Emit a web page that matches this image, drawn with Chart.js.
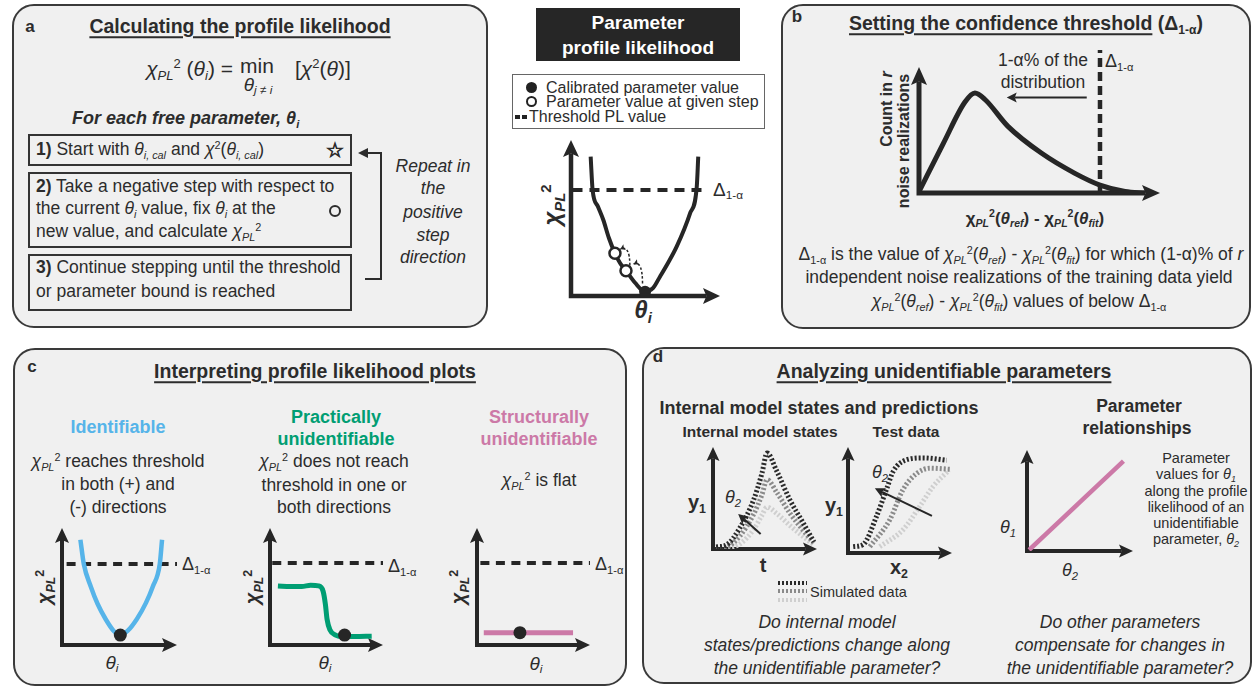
<!DOCTYPE html>
<html>
<head>
<meta charset="utf-8">
<title>Profile likelihood overview</title>
<script src="https://cdn.jsdelivr.net/npm/chart.js@4"></script>
<style>
  body { margin: 0; background: #fff; font-family: "Liberation Sans", Arial, sans-serif; color: #2c2c2c; }
  #page { position: relative; width: 1254px; height: 688px; overflow: hidden; }
  .panel { position: absolute; background: #f0f0f0; border: 2px solid #3a3a3a; border-radius: 22px; box-sizing: border-box; }
  .box { position: absolute; border: 2px solid #333; box-sizing: border-box; }
  .c, .l, .r, .rot { position: absolute; white-space: nowrap; line-height: 1; }
  .c { transform: translate(-50%, -50%); }
  .l { transform: translateY(-50%); }
  .r { transform: translate(-100%, -50%); }
  .rot { transform: translate(-50%, -50%) rotate(-90deg); }
  .ttl { font-weight: bold; font-size: 19.5px; }
  .ttl u { text-decoration-thickness: 1.5px; text-underline-offset: 3px; }
  .lab { font-weight: bold; font-size: 17px; }
  .txt { font-size: 17.5px; }
  .it { font-style: italic; }
  sub { font-size: 0.62em; vertical-align: -0.32em; font-style: italic; line-height: 0; }
  sub.n { font-style: normal; }
  sup { font-size: 0.62em; vertical-align: 0.6em; line-height: 0; }
  canvas { position: absolute; }
</style>
</head>
<body>
<div id="page">
  <!-- panel frames -->
  <div class="panel" style="left:12px;top:4px;width:476px;height:324px"></div>
  <div class="panel" style="left:781px;top:4px;width:470px;height:325px"></div>
  <div class="panel" style="left:13px;top:348px;width:614px;height:338px"></div>
  <div class="panel" style="left:642px;top:347px;width:610px;height:337px"></div>

  <!-- a -->
  <div class="c lab" style="left:30px;top:26px">a</div>
  <div class="c ttl" style="left:240px;top:27px"><u>Calculating the profile likelihood</u></div>
  <div class="r" style="left:233px;top:68px;font-size:21px"><i>χ</i><sub>PL</sub><sup>2</sup> (<i>θ</i><sub>i</sub>) =</div>
  <div class="l" style="left:240px;top:65px;font-size:21px">min</div>
  <div class="c" style="left:258px;top:84px;font-size:19px"><i>θ</i><sub>j ≠ i</sub></div>
  <div class="l" style="left:295px;top:68px;font-size:21px">[<i>χ</i><sup>2</sup>(<i>θ</i>)]</div>
  <div class="l" style="left:72px;top:118px;font-size:18px;font-weight:bold;font-style:italic">For each free parameter, θ<sub>i</sub></div>

  <div class="box" style="left:28px;top:134px;width:324px;height:32px"></div>
  <div class="l txt" style="left:36px;top:150px"><b>1)</b> Start with <i>θ</i><sub>i, cal</sub> and <i>χ</i><sup>2</sup>(<i>θ</i><sub>i, cal</sub>)</div>
  <div class="c" style="left:335px;top:150px;font-family:'DejaVu Sans';font-size:20px;-webkit-text-stroke:0.9px #2c2c2c">☆</div>

  <div class="box" style="left:28px;top:172px;width:324px;height:76px"></div>
  <div class="l txt" style="left:36px;top:187px"><b>2)</b> Take a negative step with respect to</div>
  <div class="l txt" style="left:36px;top:209px">the current <i>θ</i><sub>i</sub> value, fix <i>θ</i><sub>i</sub> at the</div>
  <div class="l txt" style="left:36px;top:232px">new value, and calculate <i>χ</i><sub>PL</sub><sup>2</sup></div>
  <div style="position:absolute;left:329px;top:205px;width:12px;height:12px;border:2.5px solid #2c2c2c;border-radius:50%;box-sizing:border-box"></div>

  <div class="box" style="left:28px;top:254px;width:324px;height:57px"></div>
  <div class="l txt" style="left:36px;top:268px"><b>3)</b> Continue stepping until the threshold</div>
  <div class="l txt" style="left:36px;top:292px">or parameter bound is reached</div>

  <div style="position:absolute;left:366px;top:152px;width:16px;border-top:2.5px solid #2c2c2c"></div>
  <div style="position:absolute;left:380px;top:152px;height:128px;border-left:2.5px solid #2c2c2c"></div>
  <div style="position:absolute;left:365px;top:278px;width:17px;border-top:2.5px solid #2c2c2c"></div>
  <div style="position:absolute;left:358px;top:148px;width:0;height:0;border-right:10px solid #2c2c2c;border-top:5.5px solid transparent;border-bottom:5.5px solid transparent"></div>
  <div class="c txt it" style="left:433px;top:167px">Repeat in</div>
  <div class="c txt it" style="left:433px;top:189px">the</div>
  <div class="c txt it" style="left:433px;top:213px">positive</div>
  <div class="c txt it" style="left:433px;top:236px">step</div>
  <div class="c txt it" style="left:433px;top:258px">direction</div>

  <!-- centre -->
  <div style="position:absolute;left:536px;top:8px;width:204px;height:53px;background:#262626"></div>
  <div class="c" style="left:638px;top:22px;color:#fff;font-weight:bold;font-size:19px">Parameter</div>
  <div class="c" style="left:638px;top:47px;color:#fff;font-weight:bold;font-size:19px">profile likelihood</div>
  <div style="position:absolute;left:512px;top:74px;width:253px;height:55px;background:#fff;border:1.5px solid #666;box-sizing:border-box"></div>
  <div style="position:absolute;left:526px;top:82px;width:11px;height:11px;background:#222;border-radius:50%"></div>
  <div style="position:absolute;left:526px;top:96px;width:11px;height:11px;border:2.5px solid #222;border-radius:50%;box-sizing:border-box;background:#fff"></div>
  <div style="position:absolute;left:515px;top:115px;width:5px;height:4px;background:#222"></div>
  <div style="position:absolute;left:522px;top:115px;width:5px;height:4px;background:#222"></div>
  <div class="l" style="left:546px;top:88px;font-size:16px">Calibrated parameter value</div>
  <div class="l" style="left:546px;top:102px;font-size:16px">Parameter value at given step</div>
  <div class="l" style="left:529px;top:117px;font-size:16px">Threshold PL value</div>
  <div class="rot" style="left:552px;top:205px;font-size:24px;font-weight:bold"><i>χ</i><sub>PL</sub><sup>2</sup></div>
  <div class="c" style="left:643px;top:310px;font-size:24px;font-weight:bold;font-style:italic">θ<sub>i</sub></div>
  <div class="l" style="left:713px;top:189px;font-size:19px">Δ<sub class="n">1-α</sub></div>

  <!-- b -->
  <div class="c lab" style="left:797px;top:16px">b</div>
  <div class="c ttl" style="left:1026px;top:24px"><u>Setting the confidence threshold</u> (Δ<sub class="n">1-α</sub>)</div>
  <div class="c txt" style="left:1043px;top:61px">1-α% of the</div>
  <div class="c txt" style="left:1043px;top:83px">distribution</div>
  <div class="l" style="left:1105px;top:61px;font-size:18px">Δ<sub class="n">1-α</sub></div>
  <div class="rot" style="left:887px;top:109px;font-size:16px;font-weight:bold">Count in <i>r</i></div>
  <div class="rot" style="left:904px;top:141px;font-size:16px;font-weight:bold">noise realizations</div>
  <div class="c" style="left:1035px;top:218px;font-size:17px;font-weight:bold">χ<sub>PL</sub><sup>2</sup>(<i>θ</i><sub>ref</sub>) - χ<sub>PL</sub><sup>2</sup>(<i>θ</i><sub>fit</sub>)</div>
  <div class="c txt" style="left:1021px;top:255px">Δ<sub class="n">1-α</sub> is the value of <i>χ</i><sub>PL</sub><sup>2</sup>(<i>θ</i><sub>ref</sub>) - <i>χ</i><sub>PL</sub><sup>2</sup>(<i>θ</i><sub>fit</sub>) for which (1-α)% of <i>r</i></div>
  <div class="c txt" style="left:1019px;top:278px">independent noise realizations of the training data yield</div>
  <div class="c txt" style="left:1019px;top:302px"><i>χ</i><sub>PL</sub><sup>2</sup>(<i>θ</i><sub>ref</sub>) - <i>χ</i><sub>PL</sub><sup>2</sup>(<i>θ</i><sub>fit</sub>) values of below Δ<sub class="n">1-α</sub></div>

  <!-- c -->
  <div class="c lab" style="left:32px;top:366px">c</div>
  <div class="c ttl" style="left:315px;top:372px"><u>Interpreting profile likelihood plots</u></div>
  <div class="c" style="left:118px;top:427px;font-size:18px;font-weight:bold;color:#56b4e9">Identifiable</div>
  <div class="c txt" style="left:118px;top:462px"><i>χ</i><sub>PL</sub><sup>2</sup> reaches threshold</div>
  <div class="c txt" style="left:118px;top:485px">in both (+) and</div>
  <div class="c txt" style="left:118px;top:508px">(-) directions</div>
  <div class="c" style="left:336px;top:417px;font-size:18px;font-weight:bold;color:#009e73">Practically</div>
  <div class="c" style="left:336px;top:439px;font-size:18px;font-weight:bold;color:#009e73">unidentifiable</div>
  <div class="c txt" style="left:334px;top:462px"><i>χ</i><sub>PL</sub><sup>2</sup> does not reach</div>
  <div class="c txt" style="left:334px;top:486px">threshold in one or</div>
  <div class="c txt" style="left:334px;top:508px">both directions</div>
  <div class="c" style="left:539px;top:417px;font-size:18px;font-weight:bold;color:#cc79a7">Structurally</div>
  <div class="c" style="left:539px;top:439px;font-size:18px;font-weight:bold;color:#cc79a7">unidentifiable</div>
  <div class="c txt" style="left:539px;top:481px"><i>χ</i><sub>PL</sub><sup>2</sup> is flat</div>

  <div class="rot" style="left:44px;top:587px;font-size:20px;font-weight:bold"><i>χ</i><sub>PL</sub><sup>2</sup></div>
  <div class="rot" style="left:252px;top:587px;font-size:20px;font-weight:bold"><i>χ</i><sub>PL</sub><sup>2</sup></div>
  <div class="rot" style="left:458px;top:587px;font-size:20px;font-weight:bold"><i>χ</i><sub>PL</sub><sup>2</sup></div>
  <div class="c it" style="left:112px;top:662px;font-size:19px">θ<sub>i</sub></div>
  <div class="c it" style="left:325px;top:662px;font-size:19px">θ<sub>i</sub></div>
  <div class="c it" style="left:536px;top:663px;font-size:19px">θ<sub>i</sub></div>
  <div class="l" style="left:182px;top:564px;font-size:18px">Δ<sub class="n">1-α</sub></div>
  <div class="l" style="left:388px;top:566px;font-size:18px">Δ<sub class="n">1-α</sub></div>
  <div class="l" style="left:595px;top:564px;font-size:18px">Δ<sub class="n">1-α</sub></div>

  <!-- d -->
  <div class="c lab" style="left:658px;top:356px">d</div>
  <div class="c ttl" style="left:944px;top:372px"><u>Analyzing unidentifiable parameters</u></div>
  <div class="c" style="left:819px;top:408px;font-size:18px;font-weight:bold">Internal model states and predictions</div>
  <div class="c" style="left:760px;top:432px;font-size:15.5px;font-weight:bold">Internal model states</div>
  <div class="c" style="left:906px;top:432px;font-size:15.5px;font-weight:bold">Test data</div>
  <div class="c" style="left:697px;top:502px;font-size:20px;font-weight:bold">y<sub class="n">1</sub></div>
  <div class="c" style="left:834px;top:505px;font-size:20px;font-weight:bold">y<sub class="n">1</sub></div>
  <div class="c" style="left:763px;top:565px;font-size:20px;font-weight:bold">t</div>
  <div class="c" style="left:899px;top:567px;font-size:20px;font-weight:bold">x<sub class="n">2</sub></div>
  <div class="c it" style="left:733px;top:497px;font-size:18px">θ<sub>2</sub></div>
  <div class="c it" style="left:880px;top:472px;font-size:18px">θ<sub>2</sub></div>
  <div style="position:absolute;left:778px;top:581px;width:29px;height:4px;background:repeating-linear-gradient(90deg,#2a2a2a 0 2px,transparent 2px 4px)"></div>
  <div style="position:absolute;left:778px;top:589px;width:29px;height:4px;background:repeating-linear-gradient(90deg,#8a8a8a 0 2px,transparent 2px 4px)"></div>
  <div style="position:absolute;left:778px;top:598px;width:29px;height:4px;background:repeating-linear-gradient(90deg,#cfcfcf 0 2px,transparent 2px 4px)"></div>
  <div class="l" style="left:810px;top:592px;font-size:14.5px">Simulated data</div>
  <div class="c txt it" style="left:827px;top:623px">Do internal model</div>
  <div class="c txt it" style="left:827px;top:646px">states/predictions change along</div>
  <div class="c txt it" style="left:827px;top:669px">the unidentifiable parameter?</div>

  <div class="c" style="left:1139px;top:407px;font-size:17.5px;font-weight:bold">Parameter</div>
  <div class="c" style="left:1137px;top:429px;font-size:17.5px;font-weight:bold">relationships</div>
  <div class="c it" style="left:1008px;top:527px;font-size:18px">θ<sub>1</sub></div>
  <div class="c it" style="left:1070px;top:570px;font-size:18px">θ<sub>2</sub></div>
  <div class="c" style="left:1196px;top:458px;font-size:14.5px">Parameter</div>
  <div class="c" style="left:1196px;top:474px;font-size:14.5px">values for <i>θ</i><sub>1</sub></div>
  <div class="c" style="left:1196px;top:491px;font-size:14.5px">along the profile</div>
  <div class="c" style="left:1196px;top:507px;font-size:14.5px">likelihood of an</div>
  <div class="c" style="left:1196px;top:523px;font-size:14.5px">unidentifiable</div>
  <div class="c" style="left:1196px;top:539px;font-size:14.5px">parameter, <i>θ</i><sub>2</sub></div>
  <div class="c txt it" style="left:1120px;top:623px">Do other parameters</div>
  <div class="c txt it" style="left:1120px;top:646px">compensate for changes in</div>
  <div class="c txt it" style="left:1120px;top:669px">the unidentifiable parameter?</div>
</div>

<script>
// ---- values (axis units 0..10) ----
// centre: parameter profile likelihood
const plTheta = [1.32, 1.45, 1.8, 2.17, 2.55, 2.95, 3.3, 3.69, 4.3, 4.97, 5.5, 5.97, 6.5, 7.09, 7.99, 8.44, 8.54];
const plChi2 = [8.93, 6.8, 5.75, 4.87, 3.7, 2.74, 2.1, 1.62, 0.85, 0.28, 0.5, 1.24, 2.1, 3.16, 5.3, 7.0, 8.93];
const plCalibrated = [[4.97], [0.28]];
const plSteps = [[2.95, 3.69], [2.74, 1.62]];
const plStepArcs = [
  [[4.8, 0.8], [4.8, 2.3], [4.2, 2.05]],
  [[3.95, 1.95], [3.95, 3.3], [3.3, 3.0]]
];
const plThreshold = 6.8;

// b: distribution of chi2 differences
const distX = [0, 1.0, 1.9, 2.32, 2.75, 3.69, 5.09, 6.47, 7.51, 8.55, 9.4];
const distCount = [0.1, 3.9, 7.2, 7.94, 7.4, 5.29, 3.15, 1.56, 0.63, 0.12, 0.0];
const distDelta = 7.51;
const distArrow = [[6.96, 7.57], [3.64, 7.57]];

// c: identifiable / practically / structurally unidentifiable
const idTheta = [1.6, 1.9, 2.5, 3.1, 3.8, 4.5, 5.07, 5.7, 6.5, 7.3, 7.9, 8.5, 8.7];
const idChi2 = [9.0, 6.9, 5.0, 3.5, 2.2, 1.2, 0.85, 1.2, 2.2, 3.6, 5.0, 6.9, 9.0];
const idCalibrated = [[5.07], [0.85]];
const practTheta = [0.7, 1.8, 2.8, 3.6, 4.3, 4.7, 4.9, 5.05, 5.3, 5.8, 6.5, 7.5, 9.0];
const practChi2 = [5.05, 5.0, 5.0, 5.1, 5.05, 4.6, 3.5, 2.2, 1.3, 0.85, 0.72, 0.72, 0.75];
const practCalibrated = [[6.6], [0.85]];
const structTheta = [0.6, 8.5];
const structChi2 = [1.05, 1.05];
const structCalibrated = [[3.8], [1.05]];
const cThresholds = [6.92, 7.0, 7.0];

// d: internal model states (three theta2 values)
const stateT = [0.3, 1.3, 2.6, 3.9, 4.7, 5.2, 6.1, 7.4, 8.7, 9.7];
const stateHigh = [0.2, 0.4, 2.1, 4.8, 7.4, 9.4, 7.7, 4.8, 2.5, 0.7];
const stateMid = [0.1, 0.2, 1.3, 3.4, 5.3, 6.8, 5.6, 3.5, 1.8, 0.6];
const stateLow = [0.0, 0.1, 0.5, 1.9, 3.3, 4.1, 3.5, 2.3, 1.2, 0.4];
const stateArrow = [[4.58, 1.48], [2.42, 3.44]];
// d: test data
const testXHigh = [0.5, 1.45, 2.74, 3.7, 4.35, 5.64, 7.25, 9.5];
const testYHigh = [0.6, 0.8, 3.45, 6.0, 7.7, 8.8, 8.97, 8.75];
const testXMid = [2.1, 4.0, 5.3, 6.6, 7.9, 9.8];
const testYMid = [0.6, 3.1, 6.0, 7.5, 8.0, 7.9];
const testXLow = [3.05, 5.3, 6.9, 8.2, 9.7];
const testYLow = [0.6, 2.2, 4.4, 6.3, 7.8];
const testArrow = [[8.07, 3.5], [2.58, 6.1]];
// d: parameter relationship
const relTheta2 = [0.2, 9.1];
const relTheta1 = [0.1, 8.9];

const INK = '#262626';
const BLUE = '#56b4e9', GREEN = '#009e73', PINK = '#cc79a7';
const PAD = 24;

function pts(xs, ys) { return xs.map((x, i) => ({ x, y: ys[i] })); }

function curve(xs, ys, color, width, extra) {
  return Object.assign({
    data: pts(xs, ys), showLine: true, borderColor: color, borderWidth: width,
    pointRadius: 0, fill: false, cubicInterpolationMode: 'monotone'
  }, extra || {});
}

function dashed(xs, ys, width, dash, extra) {
  return curve(xs, ys, INK, width, Object.assign({ borderDash: dash, cubicInterpolationMode: 'default', tension: 0 }, extra || {}));
}

function dots(xy, fill, r, border) {
  return {
    data: pts(xy[0], xy[1]), showLine: false, pointRadius: r,
    pointBackgroundColor: fill, pointBorderColor: INK, pointBorderWidth: border || 0
  };
}

// draws the arrow-tipped L axes and any annotation arrows / step arcs
function axesPlugin(cfg) {
  function head(ctx, tx, ty, ang, len, half) {
    ctx.save();
    ctx.translate(tx, ty);
    ctx.rotate(ang);
    ctx.beginPath();
    ctx.moveTo(0, 0);
    ctx.lineTo(-len, -half);
    ctx.lineTo(-len * 0.8, 0);
    ctx.lineTo(-len, half);
    ctx.closePath();
    ctx.fill();
    ctx.restore();
  }
  return {
    id: 'arrowAxes',
    beforeDatasetsDraw(chart) {
      const { ctx, chartArea: a } = chart;
      ctx.save();
      ctx.strokeStyle = ctx.fillStyle = INK;
      ctx.lineWidth = cfg.lw;
      ctx.lineJoin = 'miter';
      ctx.beginPath();
      ctx.moveTo(a.left, a.top + cfg.hl * 0.8);
      ctx.lineTo(a.left, a.bottom);
      ctx.lineTo(a.right - cfg.hl * 0.8, a.bottom);
      ctx.stroke();
      head(ctx, a.left, a.top, -Math.PI / 2, cfg.hl, cfg.hw);
      head(ctx, a.right, a.bottom, 0, cfg.hl, cfg.hw);
      ctx.restore();
    },
    afterDatasetsDraw(chart) {
      const { ctx, scales: { x, y } } = chart;
      const px = p => [x.getPixelForValue(p[0]), y.getPixelForValue(p[1])];
      (cfg.arrows || []).forEach(ar => {
        const [x1, y1] = px(ar[0]), [x2, y2] = px(ar[1]);
        const ang = Math.atan2(y2 - y1, x2 - x1);
        ctx.save();
        ctx.strokeStyle = ctx.fillStyle = INK;
        ctx.lineWidth = cfg.alw || 2;
        ctx.beginPath();
        ctx.moveTo(x1, y1);
        ctx.lineTo(x2 - Math.cos(ang) * 8, y2 - Math.sin(ang) * 8);
        ctx.stroke();
        head(ctx, x2, y2, ang, 10, 5);
        ctx.restore();
      });
      (cfg.arcs || []).forEach(arc => {
        const [x1, y1] = px(arc[0]), [cx, cy] = px(arc[1]), [x2, y2] = px(arc[2]);
        ctx.save();
        ctx.strokeStyle = ctx.fillStyle = INK;
        ctx.lineWidth = 1.5;
        ctx.setLineDash([2.5, 2]);
        ctx.beginPath();
        ctx.moveTo(x1, y1);
        ctx.quadraticCurveTo(cx, cy, x2, y2);
        ctx.stroke();
        ctx.setLineDash([]);
        head(ctx, x2, y2, Math.atan2(y2 - cy, x2 - cx), 5, 3);
        ctx.restore();
      });
    }
  };
}

function miniChart(area, datasets, cfg) {
  const cv = document.createElement('canvas');
  cv.width = Math.round(area.w + 2 * PAD);
  cv.height = Math.round(area.h + 2 * PAD);
  cv.style.left = (area.x - PAD) + 'px';
  cv.style.top = (area.y - PAD) + 'px';
  document.getElementById('page').appendChild(cv);
  return new Chart(cv, {
    type: 'scatter',
    data: { datasets },
    options: {
      responsive: false,
      animation: false,
      events: [],
      layout: { padding: PAD },
      scales: {
        x: { type: 'linear', display: false, min: 0, max: 10 },
        y: { type: 'linear', display: false, min: 0, max: 10 }
      },
      plugins: { legend: { display: false }, tooltip: { enabled: false } }
    },
    plugins: [axesPlugin(cfg)]
  });
}

// centre
miniChart({ x: 571, y: 140, w: 149, h: 156 }, [
  dots(plCalibrated, INK, 6),
  dots(plSteps, '#fff', 5.5, 2.5),
  curve(plTheta, plChi2, INK, 4),
  dashed([0.1, 9.2], [plThreshold, plThreshold], 4, [10, 7])
], { lw: 4.5, hl: 17, hw: 8, arcs: plStepArcs });

// b
miniChart({ x: 919, y: 67, w: 241, h: 126 }, [
  curve(distX, distCount, INK, 5),
  dashed([distDelta, distDelta], [0, 11.35], 4.5, [9, 5], { clip: false })
], { lw: 5, hl: 18, hw: 8, arrows: [distArrow], alw: 2 });

// c
miniChart({ x: 62, y: 528, w: 115, h: 117 }, [
  dots(idCalibrated, INK, 6.5),
  curve(idTheta, idChi2, BLUE, 4.5),
  dashed([0.4, 10], [cThresholds[0], cThresholds[0]], 4, [9, 6.5])
], { lw: 4, hl: 15, hw: 7 });
miniChart({ x: 270, y: 528, w: 113, h: 117 }, [
  dots(practCalibrated, INK, 6.5),
  curve(practTheta, practChi2, GREEN, 5),
  dashed([0.2, 10], [cThresholds[1], cThresholds[1]], 4, [9, 6.5])
], { lw: 4, hl: 15, hw: 7 });
miniChart({ x: 477, y: 528, w: 113, h: 117 }, [
  dots(structCalibrated, INK, 6.5),
  curve(structTheta, structChi2, PINK, 5),
  dashed([0.3, 10], [cThresholds[2], cThresholds[2]], 4, [9, 6.5])
], { lw: 4, hl: 15, hw: 7 });

// d
const dotted = [2, 2];
miniChart({ x: 713, y: 447, w: 104, h: 102 }, [
  curve(stateT, stateHigh, '#2a2a2a', 5, { borderDash: dotted }),
  curve(stateT, stateMid, '#8a8a8a', 5, { borderDash: dotted }),
  curve(stateT, stateLow, '#cfcfcf', 5, { borderDash: dotted })
], { lw: 4, hl: 14, hw: 6.5, arrows: [stateArrow], alw: 2 });
miniChart({ x: 848, y: 447, w: 104, h: 106 }, [
  curve(testXHigh, testYHigh, '#2a2a2a', 5, { borderDash: dotted }),
  curve(testXMid, testYMid, '#8a8a8a', 5, { borderDash: dotted }),
  curve(testXLow, testYLow, '#cfcfcf', 5, { borderDash: dotted })
], { lw: 4, hl: 14, hw: 6.5, arrows: [testArrow], alw: 2 });
miniChart({ x: 1027, y: 450, w: 106, h: 101 }, [
  curve(relTheta2, relTheta1, PINK, 4.5, { cubicInterpolationMode: 'default', tension: 0 })
], { lw: 4, hl: 14, hw: 6.5 });
</script>
</body>
</html>
